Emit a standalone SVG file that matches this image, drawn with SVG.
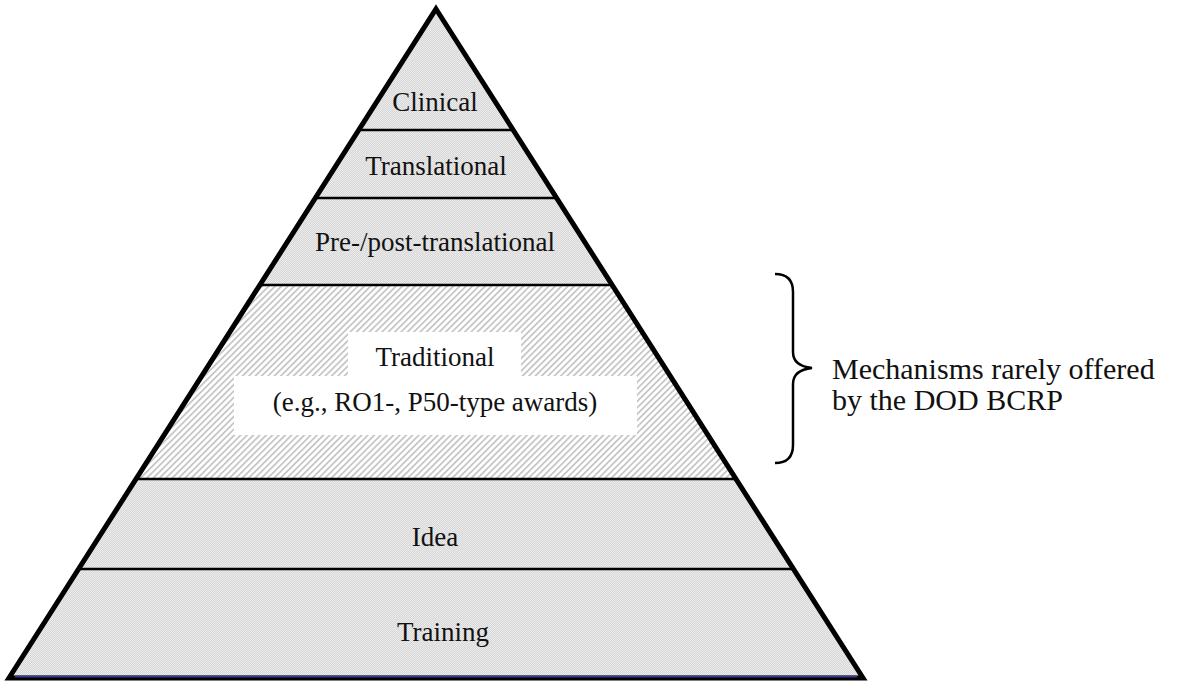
<svg xmlns="http://www.w3.org/2000/svg" width="1181" height="681" viewBox="0 0 1181 681">
<defs>
<pattern id="dots" width="2" height="2" patternUnits="userSpaceOnUse">
<rect width="2" height="2" fill="#d6d6d6"/>
<rect width="1" height="1" fill="#ececec"/>
<rect x="1" y="1" width="1" height="1" fill="#ececec"/>
</pattern>
<pattern id="hatch" width="4.5" height="4.5" patternUnits="userSpaceOnUse" patternTransform="rotate(45)">
<rect width="4.5" height="4.5" fill="#ffffff"/>
<rect width="1.7" height="4.5" fill="#c4c4c4"/>
</pattern>
<style>
.lbl{font-family:"Liberation Serif","Times New Roman",serif;font-size:27px;fill:#111;text-anchor:middle}
.side{font-family:"Liberation Serif","Times New Roman",serif;font-size:30px;fill:#111}
.div{stroke:#000;stroke-width:2.5}
</style>
</defs>
<rect width="1181" height="681" fill="#ffffff"/>
<g id="pyramid-fill">
<polygon points="436,9 863,678 9,678" fill="url(#dots)"/>
<polygon id="traditional-band" points="260,285 612,285 735.7,479 136.3,479" fill="url(#hatch)"/>
</g>
<g id="dividers">
<line class="div" x1="358.8" y1="130" x2="513.2" y2="130"/>
<line class="div" x1="315.5" y1="198" x2="556.5" y2="198"/>
<line class="div" x1="260" y1="285" x2="612" y2="285"/>
<line class="div" x1="136.3" y1="479" x2="735.7" y2="479"/>
<line class="div" x1="78.9" y1="569" x2="793.1" y2="569"/>
</g>
<polygon id="outline" points="436,9 863,678 9,678" fill="none" stroke="#000" stroke-width="5" stroke-linejoin="miter"/>
<line id="base-accent" x1="15" y1="676.5" x2="857" y2="676.5" stroke="#3a3a8c" stroke-width="2"/>
<g id="clinical"><text class="lbl" x="435" y="111">Clinical</text></g>
<g id="translational"><text class="lbl" x="436" y="175">Translational</text></g>
<g id="pre-post"><text class="lbl" x="435" y="251">Pre-/post-translational</text></g>
<g id="traditional">
<rect x="348" y="332" width="173" height="45" fill="#ffffff"/>
<rect x="234" y="376" width="403" height="59" fill="#ffffff"/>
<text class="lbl" x="435" y="366">Traditional</text>
<text class="lbl" x="435" y="411">(e.g., RO1-, P50-type awards)</text>
</g>
<g id="idea"><text class="lbl" x="435" y="546">Idea</text></g>
<g id="training"><text class="lbl" x="443" y="641">Training</text></g>
<g id="connectors">
<path d="M775,274 Q793,274 793,292 L793,352 Q793,366 812,368 Q793,370 793,384 L793,445 Q793,463 775,463" fill="none" stroke="#000" stroke-width="2.5"/>
</g>
<g id="note">
<text class="side" x="832" y="379">Mechanisms rarely offered</text>
<text class="side" x="832" y="410">by the DOD BCRP</text>
</g>
</svg>
